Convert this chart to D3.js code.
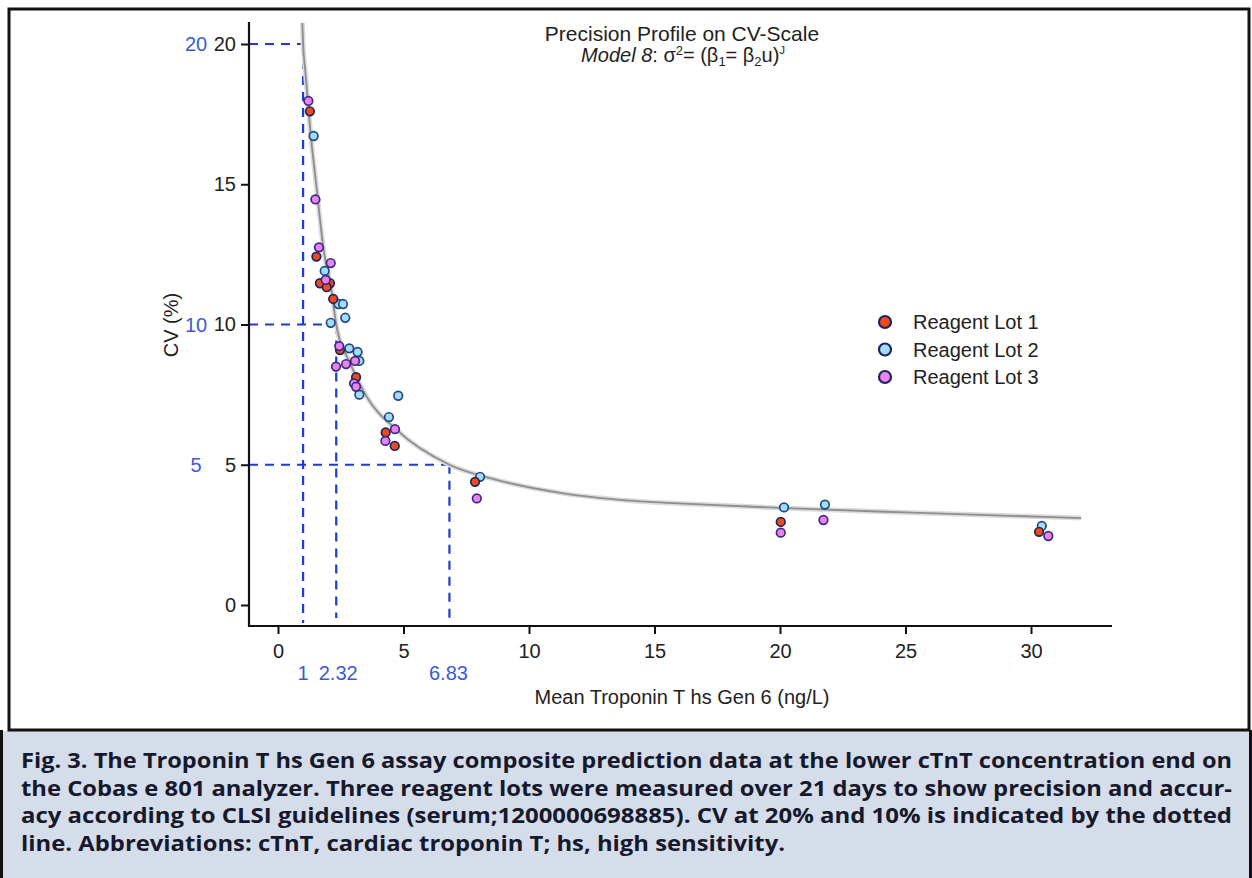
<!DOCTYPE html>
<html><head><meta charset="utf-8">
<script src="https://cdn.jsdelivr.net/npm/d3@7"></script>
<style>
html,body{margin:0;padding:0;background:#fff;}
svg{display:block;}
</style></head>
<body>
<svg id="c" width="1252" height="878"></svg>
<script>
// ---- data ----
const xTicks = [0, 5, 10, 15, 20, 25, 30];
const yTicks = [0, 5, 10, 15, 20];
const cutoffCV = [20, 10, 5];
const cutoffConc = [1, 2.32, 6.83];
const cutoffConcLabels = ["1", "2.32", "6.83"];
const cutoffCVLabels = ["20", "10", "5"];
const lotNames = ["Reagent Lot 1", "Reagent Lot 2", "Reagent Lot 3"];

const lot1U  = [1.27, 1.53, 1.67, 2.07, 1.94, 2.20, 2.47, 3.11, 4.29, 4.65, 7.85, 20.03, 30.32];
const lot1CV = [17.6, 12.42, 11.47, 11.47, 11.33, 10.91, 9.09, 8.12, 6.15, 5.67, 4.39, 2.96, 2.61];
const lot2U  = [1.42, 1.86, 2.41, 2.59, 2.68, 2.10, 2.84, 3.17, 3.24, 3.24, 4.79, 4.42, 8.05, 20.16, 21.79, 30.43];
const lot2CV = [16.72, 11.91, 10.73, 10.73, 10.24, 10.06, 9.15, 9.02, 8.70, 7.50, 7.46, 6.70, 4.57, 3.48, 3.58, 2.82];
const lot3U  = [1.21, 1.49, 1.63, 2.10, 1.90, 2.44, 3.07, 2.71, 2.31, 3.03, 3.11, 4.66, 4.28, 7.92, 20.03, 21.73, 30.69];
const lot3CV = [17.97, 14.46, 12.75, 12.19, 11.59, 9.23, 8.70, 8.59, 8.50, 7.90, 7.78, 6.27, 5.85, 3.80, 2.58, 3.03, 2.46];

// fitted precision-profile curve
const curveU  = [0.97, 1.0, 1.08, 1.30, 1.54, 1.81, 2.14, 2.32, 2.87, 3.53, 4.73, 6.83, 8.71, 11.37, 14.02, 17, 20, 25, 32];
const curveCV = [20.75, 20.0, 19.1, 16.8, 14.85, 12.72, 11.17, 10.0, 8.62, 7.43, 6.24, 5.0, 4.46, 3.98, 3.72, 3.58, 3.46, 3.30, 3.10];

const captionLines = [
  "Fig. 3. The Troponin T hs Gen 6 assay composite prediction data at the lower cTnT concentration end on",
  "the Cobas e 801 analyzer. Three reagent lots were measured over 21 days to show precision and accur-",
  "acy according to CLSI guidelines (serum;1200000698885). CV at 20% and 10% is indicated by the dotted",
  "line. Abbreviations: cTnT, cardiac troponin T; hs, high sensitivity."
];
const captionWidths = [1211, 1211, 1211, 764];

// ---- drawing ----
const svg = d3.select("#c");
const FONT = "'Liberation Sans', Arial, sans-serif";
const fills = ["#ef4a17", "#a6dbf5", "#ec83ec"];
const strokes = ["#1c2464", "#1d4a86", "#3a2a86"];
const blueLine = "#1d3bd6", blueText = "#3a5ad8";

const x = d3.scaleLinear().domain([0, 30]).range([278, 1031]);
const y = d3.scaleLinear().domain([0, 20]).range([605, 44]);

// frames
svg.append("rect").attr("x", 0).attr("y", 731).attr("width", 1252).attr("height", 147).attr("fill", "#d5dcea");
svg.append("line").attr("x1", 1.5).attr("x2", 1.5).attr("y1", 730).attr("y2", 878).attr("stroke", "#111").attr("stroke-width", 3);
svg.append("line").attr("x1", 1250.5).attr("x2", 1250.5).attr("y1", 730).attr("y2", 878).attr("stroke", "#111").attr("stroke-width", 3);
svg.append("rect").attr("x", 9).attr("y", 9).attr("width", 1240).attr("height", 721)
  .attr("fill", "none").attr("stroke", "#111").attr("stroke-width", 3);

// title
svg.append("text").attr("x", 682).attr("y", 41).attr("text-anchor", "middle")
  .attr("font-family", FONT).attr("font-size", 21).attr("fill", "#222").text("Precision Profile on CV-Scale");
const sub = svg.append("text").attr("x", 683).attr("y", 62).attr("text-anchor", "middle")
  .attr("font-family", FONT).attr("font-size", 20).attr("fill", "#222");
sub.append("tspan").attr("font-style", "italic").text("Model 8");
sub.append("tspan").text(": σ");
sub.append("tspan").attr("font-size", 13).attr("dy", -7).text("2");
sub.append("tspan").attr("dy", 7).text("= (β");
sub.append("tspan").attr("font-size", 13).attr("dy", 4).text("1");
sub.append("tspan").attr("dy", -4).text("= β");
sub.append("tspan").attr("font-size", 13).attr("dy", 4).text("2");
sub.append("tspan").attr("dy", -4).text("u)");
sub.append("tspan").attr("font-size", 11).attr("dy", -8).text("J");

// dashed cutoff lines
const dash = svg.append("g").attr("stroke", blueLine).attr("stroke-width", 2.2)
  .attr("stroke-dasharray", "9,7").attr("fill", "none");
const yBottoms = [623, 618, 621];
cutoffCV.forEach((cv, i) => {
  dash.append("line").attr("x1", 249).attr("x2", x(cutoffConc[i])).attr("y1", y(cv)).attr("y2", y(cv));
  dash.append("line").attr("x1", x(cutoffConc[i])).attr("x2", x(cutoffConc[i])).attr("y1", y(cv)).attr("y2", yBottoms[i]);
});

// axes
const xAxis = d3.axisBottom(x).tickValues(xTicks).tickSize(8).tickSizeOuter(0).tickPadding(10);
const gx = svg.append("g").attr("transform", "translate(0,626)").call(xAxis);
gx.select(".domain").remove();
gx.selectAll(".tick line").attr("stroke", "#111").attr("stroke-width", 2);
gx.selectAll(".tick text").attr("font-family", FONT).attr("font-size", 20).attr("fill", "#222");
svg.append("line").attr("x1", 248).attr("x2", 1112).attr("y1", 626).attr("y2", 626).attr("stroke", "#111").attr("stroke-width", 2.2);

const yAxis = d3.axisLeft(y).tickValues(yTicks).tickSize(8).tickSizeOuter(0).tickPadding(5);
const gy = svg.append("g").attr("transform", "translate(249,0)").call(yAxis);
gy.select(".domain").remove();
gy.selectAll(".tick line").attr("stroke", "#111").attr("stroke-width", 2);
gy.selectAll(".tick text").attr("font-family", FONT).attr("font-size", 20).attr("fill", "#222");
svg.append("line").attr("x1", 249).attr("x2", 249).attr("y1", 22).attr("y2", 627).attr("stroke", "#111").attr("stroke-width", 2.2);

// blue cutoff labels
cutoffCVLabels.forEach((t, i) => {
  svg.append("text").attr("x", 196).attr("y", y(cutoffCV[i])).attr("dy", "0.35em")
    .attr("text-anchor", "middle").attr("font-family", FONT).attr("font-size", 20).attr("fill", blueText).text(t);
});
const blueXoff = [0, 2, -1];
cutoffConcLabels.forEach((t, i) => {
  svg.append("text").attr("x", x(cutoffConc[i]) + blueXoff[i]).attr("y", 680)
    .attr("text-anchor", "middle").attr("font-family", FONT).attr("font-size", 20).attr("fill", blueText).text(t);
});

// axis titles
svg.append("text").attr("x", 682).attr("y", 704).attr("text-anchor", "middle")
  .attr("font-family", FONT).attr("font-size", 20).attr("fill", "#222").text("Mean Troponin T hs Gen 6 (ng/L)");
svg.append("text").attr("transform", "translate(178,325) rotate(-90)").attr("text-anchor", "middle")
  .attr("font-family", FONT).attr("font-size", 20).attr("fill", "#222").text("CV (%)");

// curve
const curvePts = curveU.map((u, i) => [u, curveCV[i]]);
const line = d3.line().x(d => x(d[0])).y(d => y(d[1])).curve(d3.curveMonotoneX);
svg.append("path").attr("d", line(curvePts)).attr("fill", "none").attr("stroke", "#dcdcdc").attr("stroke-width", 5);
svg.append("path").attr("d", line(curvePts)).attr("fill", "none").attr("stroke", "#8e8e8e").attr("stroke-width", 1.8);

// points
const lots = [
  {u: lot2U, cv: lot2CV, k: 1},
  {u: lot1U, cv: lot1CV, k: 0},
  {u: lot3U, cv: lot3CV, k: 2}
];
lots.forEach(L => {
  svg.append("g").selectAll("circle").data(L.u.map((u, i) => [u, L.cv[i]])).join("circle")
    .attr("cx", d => x(d[0])).attr("cy", d => y(d[1])).attr("r", 4.3)
    .attr("fill", fills[L.k]).attr("stroke", strokes[L.k]).attr("stroke-width", 1.7);
});

// legend
lotNames.forEach((n, i) => {
  const cy = 322 + i * 27.5;
  svg.append("circle").attr("cx", 885).attr("cy", cy).attr("r", 6)
    .attr("fill", fills[i]).attr("stroke", "#1c2464").attr("stroke-width", 2.2);
  svg.append("text").attr("x", 913).attr("y", cy).attr("dy", "0.35em")
    .attr("font-family", FONT).attr("font-size", 20).attr("fill", "#222").text(n);
});

// caption
captionLines.forEach((t, i) => {
  svg.append("text").attr("x", 21).attr("y", 768 + i * 27.7)
    .attr("font-family", "'Open Sans', 'Noto Sans', sans-serif").attr("font-weight", 700)
    .attr("font-size", 20.5).attr("fill", "#16192b")
    .attr("textLength", captionWidths[i]).attr("lengthAdjust", "spacingAndGlyphs").text(t);
});
</script>
</body></html>
